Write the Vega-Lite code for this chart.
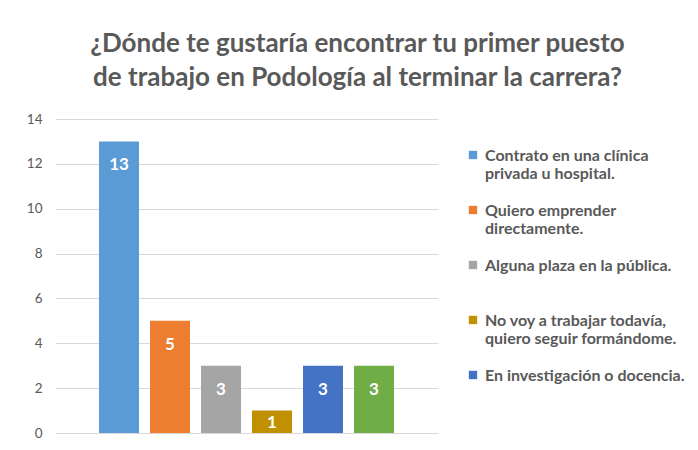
{
  "$schema": "https://vega.github.io/schema/vega-lite/v6.json",
  "width": 383,
  "height": 314,
  "autosize": {"type": "none"},
  "padding": {"left": 55, "top": 119, "right": 260, "bottom": 17},
  "background": "white",
  "config": {
    "font": "Lato",
    "view": {"stroke": null}
  },
  "title": {
    "text": ["¿Dónde te gustaría encontrar tu primer puesto", "de trabajo en Podología al terminar la carrera?"],
    "font": "Lato",
    "fontSize": 26,
    "fontWeight": "bold",
    "color": "#595959",
    "lineHeight": 34,
    "anchor": "middle",
    "dx": 111,
    "offset": 21
  },
  "data": {
    "values": [
      {"cat": "Contrato en una clínica privada u hospital.", "n": 13},
      {"cat": "Quiero emprender directamente.", "n": 5},
      {"cat": "Alguna plaza en la pública.", "n": 3},
      {"cat": "No voy a trabajar todavía, quiero seguir formándome.", "n": 1},
      {"cat": "En investigación o docencia.", "n": 3},
      {"cat": "Otro", "n": 3}
    ]
  },
  "encoding": {
    "x": {
      "field": "cat",
      "type": "nominal",
      "sort": null,
      "axis": null,
      "scale": {"paddingInner": 0.216, "paddingOuter": 0.863}
    },
    "y": {
      "field": "n",
      "type": "quantitative",
      "scale": {"domain": [0, 14], "nice": false},
      "axis": {
        "title": null,
        "values": [0, 2, 4, 6, 8, 10, 12, 14],
        "domain": false,
        "ticks": false,
        "gridColor": "#d9d9d9",
        "gridWidth": 1,
        "labelFont": "Lato",
        "labelFontSize": 13.5,
        "labelColor": "#595959",
        "labelPadding": 13
      }
    }
  },
  "layer": [
    {
      "mark": {"type": "bar"},
      "encoding": {
        "color": {
          "field": "cat",
          "type": "nominal",
          "sort": null,
          "scale": {
            "domain": [
              "Contrato en una clínica privada u hospital.",
              "Quiero emprender directamente.",
              "Alguna plaza en la pública.",
              "No voy a trabajar todavía, quiero seguir formándome.",
              "En investigación o docencia.",
              "Otro"
            ],
            "range": ["#5B9BD5", "#ED7D31", "#A5A5A5", "#C09000", "#4472C4", "#70AD47"]
          },
          "legend": {
            "title": null,
            "orient": "none",
            "legendX": 410,
            "legendY": 21,
            "values": [
              "Contrato en una clínica privada u hospital.",
              "Quiero emprender directamente.",
              "Alguna plaza en la pública.",
              "No voy a trabajar todavía, quiero seguir formándome.",
              "En investigación o docencia."
            ],
            "symbolType": "M-1,0.67H1V2.67H-1Z",
            "symbolSize": 70,
            "symbolStrokeWidth": 0,
            "labelFont": "Lato",
            "labelFontSize": 16,
            "labelFontWeight": "bold",
            "labelColor": "#595959",
            "labelLimit": 300,
            "labelOffset": 4,
            "labelBaseline": "top",
            "labelLineHeight": 20,
            "rowPadding": 13,
            "labelExpr": "datum.label == 'Contrato en una clínica privada u hospital.' ? ['Contrato en una clínica', 'privada u hospital.'] : datum.label == 'Quiero emprender directamente.' ? ['Quiero emprender', 'directamente.'] : datum.label == 'No voy a trabajar todavía, quiero seguir formándome.' ? ['No voy a trabajar todavía,', 'quiero seguir formándome.'] : datum.label == 'Alguna plaza en la pública.' ? ['Alguna plaza en la pública.', ' '] : datum.label"
          }
        }
      }
    },
    {
      "transform": [{"filter": "datum.n >= 2"}],
      "mark": {"type": "text", "baseline": "middle", "dy": 24, "color": "white", "font": "Lato", "fontSize": 17, "fontWeight": "bold"},
      "encoding": {"text": {"field": "n", "type": "quantitative"}}
    },
    {
      "transform": [{"filter": "datum.n < 2"}],
      "mark": {"type": "text", "baseline": "middle", "dy": 12, "color": "white", "font": "Lato", "fontSize": 17, "fontWeight": "bold"},
      "encoding": {"text": {"field": "n", "type": "quantitative"}}
    }
  ]
}
